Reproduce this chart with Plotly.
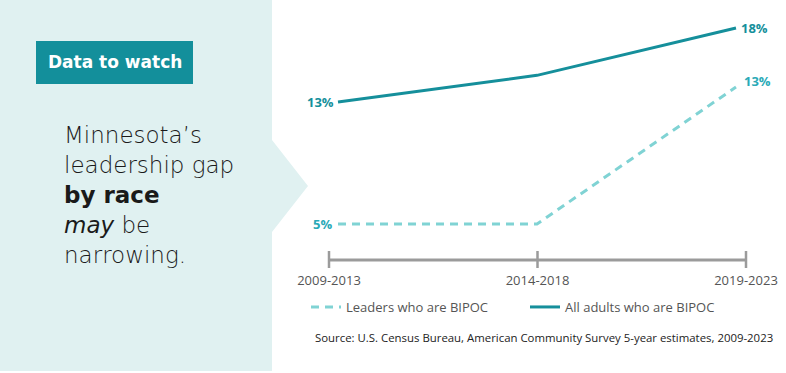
import plotly.graph_objects as go

periods = ["2009-2013", "2014-2018", "2019-2023"]
leaders = [5, 5, 13]
adults = [13, 14.8, 18]
leader_labels = ["5%", "", "13%"]
adult_labels = ["13%", "", "18%"]
series_names = ["Leaders who are BIPOC", "All adults who are BIPOC"]

W, H = 786, 373
DARK = "#158f9b"
LIGHT_LINE = "#80d3d4"
LIGHT_TXT = "#2aaab7"
GRAY = "#9b9b9b"
FONT = "Open Sans"

def py(p):
    return 1 - p / H

def px(p):
    return p / W

fig = go.Figure()
fig.add_trace(go.Scatter(x=periods, y=leaders, name=series_names[0], mode="lines",
                         line=dict(color=LIGHT_LINE, width=3, dash="8px,6px"),
                         xaxis="x", yaxis="y", hoverinfo="skip"))
fig.add_trace(go.Scatter(x=periods, y=adults, name=series_names[1], mode="lines",
                         line=dict(color=DARK, width=3),
                         xaxis="x", yaxis="y2", hoverinfo="skip"))

shapes = []
path = (f"M0,{py(0)} L{px(272)},{py(0)} L{px(272)},{py(140)} L{px(308)},{py(186)} "
        f"L{px(272)},{py(232)} L{px(272)},{py(371)} L0,{py(371)} Z")
shapes.append(dict(type="path", xref="paper", yref="paper", path=path,
                   fillcolor="#e0f1f1", line=dict(width=0), layer="below"))
shapes.append(dict(type="rect", xref="paper", yref="paper", x0=px(36), x1=px(193),
                   y0=py(84), y1=py(41), fillcolor="#138f9b", line=dict(width=0)))
shapes.append(dict(type="line", xref="x2", yref="paper", x0=0, x1=len(periods) - 1,
                   y0=py(260), y1=py(260), line=dict(color=GRAY, width=3)))
for i in range(len(periods)):
    shapes.append(dict(type="line", xref="x2", yref="paper", x0=i, x1=i,
                       y0=py(251), y1=py(268), line=dict(color=GRAY, width=2.5)))

ann = []
ann.append(dict(xref="paper", yref="paper", x=px(115), y=py(62), text="<b>Data to watch</b>",
                showarrow=False, font=dict(family="DejaVu Sans", size=17, color="white"),
                xanchor="center", yanchor="middle"))
ann.append(dict(xref="paper", yref="paper", x=px(62), y=py(195),
                text="Minnesota’s<br>leadership gap<br><b>by race</b><br><i>may</i> be<br>narrowing.",
                showarrow=False, align="left", xanchor="left", yanchor="middle",
                font=dict(family="DejaVu Sans", size=23, color="#1a1a1a", weight=200)))
for i, t in enumerate(adult_labels):
    if t:
        first = i == 0
        ann.append(dict(xref="x", yref="y2", x=periods[i], y=adults[i], text=f"<b>{t}</b>",
                        showarrow=False, xanchor="right" if first else "left",
                        xshift=-2 if first else 3, yanchor="middle",
                        font=dict(family=FONT, size=13, color=DARK)))
for i, t in enumerate(leader_labels):
    if t:
        first = i == 0
        ann.append(dict(xref="x", yref="y", x=periods[i], y=leaders[i], text=f"<b>{t}</b>",
                        showarrow=False, xanchor="right" if first else "left",
                        xshift=-4 if first else 6, yshift=0 if first else 6, yanchor="middle",
                        font=dict(family=FONT, size=13, color=LIGHT_TXT)))
ann.append(dict(xref="paper", yref="paper", x=px(313), y=py(337),
                text="Source: U.S. Census Bureau, American Community Survey 5-year estimates, 2009-2023",
                showarrow=False, xanchor="left", yanchor="middle",
                font=dict(family=FONT, size=11.4, color="#222")))

xs = 199.0
x0 = -338 / xs
xs2 = 208.5
x02 = -329 / xs2
s1 = (224 - 87) / 8
span1 = H / s1
r0_1 = 5 - (H - 224) / H * span1
s2 = (102 - 28) / 5
span2 = H / s2
r0_2 = 13 - (H - 102) / H * span2

hidden = dict(visible=False, showgrid=False, zeroline=False, fixedrange=True)
fig.update_layout(
    width=W, height=H, margin=dict(l=0, r=0, t=0, b=0),
    paper_bgcolor="white", plot_bgcolor="rgba(0,0,0,0)",
    xaxis=dict(type="category", domain=[0, 1], range=[x0, x0 + W / xs], anchor="y", **hidden),
    xaxis2=dict(type="linear", overlaying="x", anchor="free", position=py(271),
                range=[x02, x02 + W / xs2], tickmode="array",
                tickvals=list(range(len(periods))), ticktext=periods,
                showgrid=False, zeroline=False, showline=False, ticks="",
                tickfont=dict(family=FONT, size=13, color="#555")),
    yaxis=dict(domain=[0, 1], range=[r0_1, r0_1 + span1], anchor="x", **hidden),
    yaxis2=dict(overlaying="y", range=[r0_2, r0_2 + span2], anchor="x", **hidden),
    shapes=shapes, annotations=ann, showlegend=True,
    legend=dict(orientation="h", x=px(306), y=py(307), xanchor="left", yanchor="middle",
                bgcolor="rgba(0,0,0,0)", font=dict(family=FONT, size=13, color="#555"),
                itemwidth=30, entrywidth=174, entrywidthmode="pixels"),
)
fig.write_html("out.html", post_script="document.body.style.margin='0';",
               config={"displayModeBar": False})
